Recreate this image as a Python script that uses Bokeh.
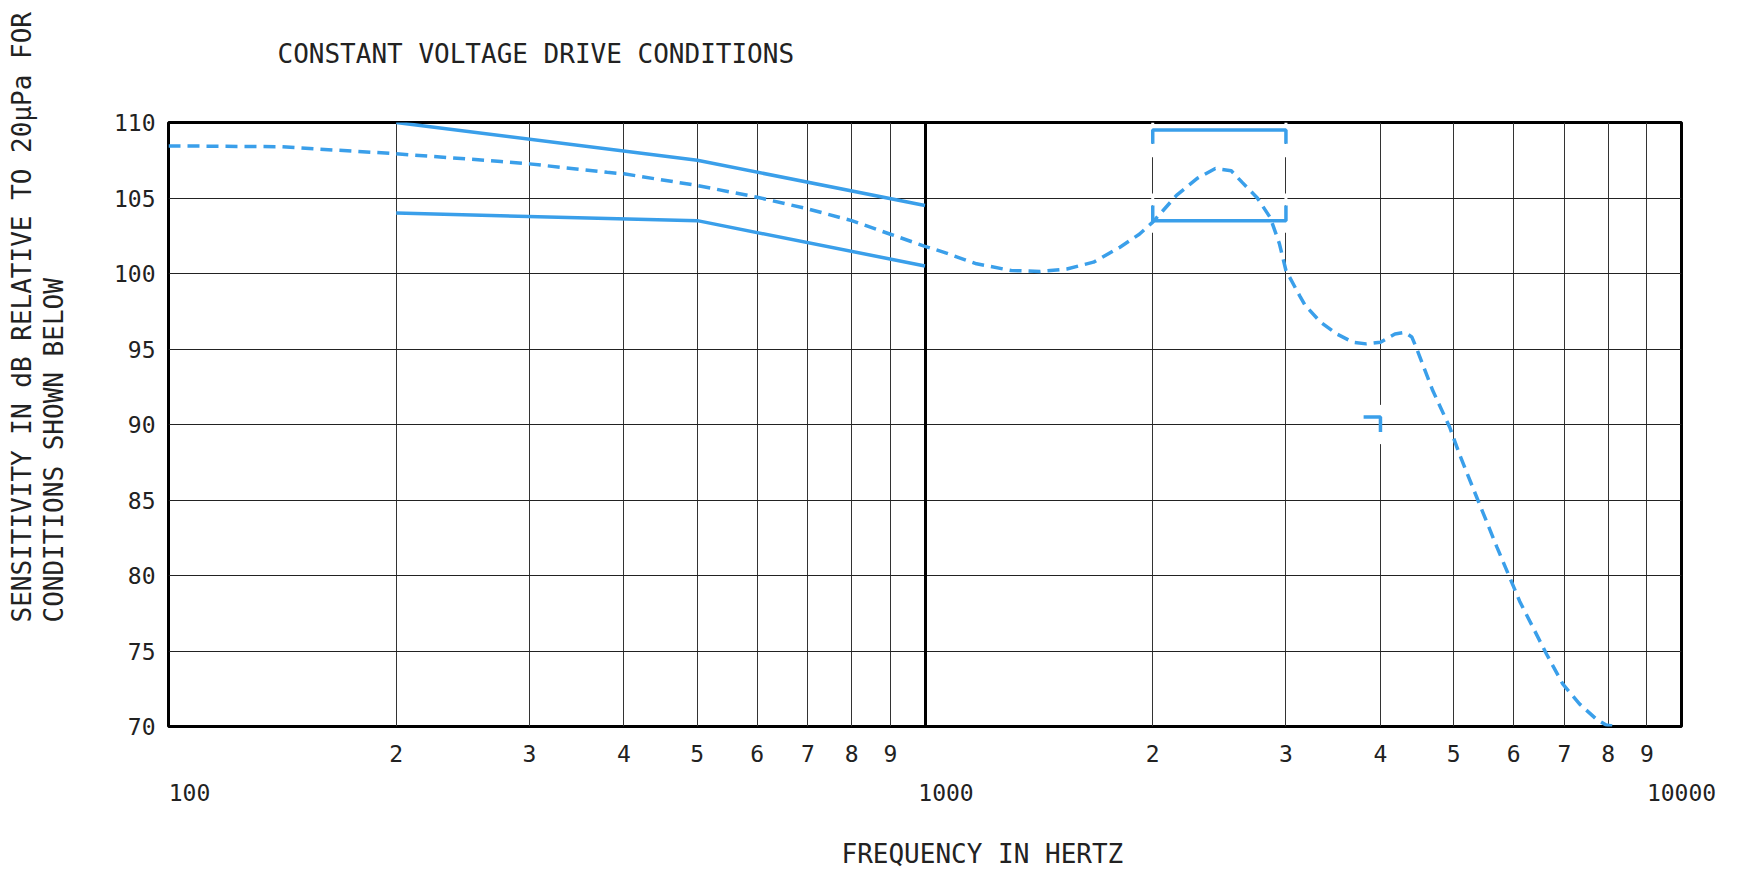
from bokeh.plotting import figure
from bokeh.models import (FixedTicker, CustomJSTickFormatter, LogAxis,
                          LinearAxis, Title, Grid, Range1d, LogScale)
from bokeh.embed import file_html
from bokeh.resources import INLINE

FONT = "DejaVu Sans Mono"
BLUE = "#3a9fea"
INK = "#222222"

# ---------------- texts ----------------
title_text = "CONSTANT VOLTAGE DRIVE CONDITIONS"
y_title_1 = "SENSITIVITY IN dB RELATIVE TO 20\u03bcPa FOR"
y_title_2 = "CONDITIONS SHOWN BELOW"
x_title = "FREQUENCY IN HERTZ"

# ---------------- ticks ----------------
y_ticks = [70, 75, 80, 85, 90, 95, 100, 105, 110]
minor_ticks = [200, 300, 400, 500, 600, 700, 800, 900,
               2000, 3000, 4000, 5000, 6000, 7000, 8000, 9000]
minor_labels = ["2", "3", "4", "5", "6", "7", "8", "9",
                "2", "3", "4", "5", "6", "7", "8", "9"]
decade_ticks = [100, 1000, 10000]
decade_labels = ["100", "1000", "10000"]

# ---------------- data ----------------
resp_freq = [100, 140, 200, 275, 300, 380, 400, 500, 600, 700, 800, 900,
             1000, 1060, 1170, 1300, 1420, 1540, 1670, 1810, 1920, 2000,
             2150, 2290, 2420, 2540, 2630, 2750, 2860, 2940, 3000, 3130,
             3180, 3330, 3500, 3680, 3830, 4000, 4180, 4310, 4400, 4460,
             4690, 4940, 5090, 5360, 5700, 6110, 6630, 6970, 7330, 7710,
             7950, 8180]
resp_db = [108.45, 108.4, 107.93, 107.42, 107.26, 106.7, 106.6, 105.83,
           105.05, 104.28, 103.5, 102.6, 101.8, 101.4, 100.64, 100.2,
           100.13, 100.3, 100.75, 101.74, 102.6, 103.4, 105.17, 106.3,
           106.95, 106.8, 106.0, 105.0, 103.7, 102.0, 100.2, 98.5,
           97.9, 96.8, 96.0, 95.45, 95.34, 95.45, 96.0, 96.1, 95.8, 95.1,
           92.25, 89.8, 88.0, 85.2, 81.9, 78.3, 74.8, 72.8, 71.5, 70.5,
           70.1, 70.0]

upper_freq = [200, 500, 1000]
upper_db = [110.0, 107.5, 104.5]
lower_freq = [200, 500, 1000]
lower_db = [104.0, 103.5, 100.5]

# tolerance bracket 2 kHz - 3 kHz
bracket_top_x = [2000, 2000, 3000, 3000]
bracket_top_y = [108.6, 109.5, 109.5, 108.6]
bracket_bot_x = [2000, 2000, 3000, 3000]
bracket_bot_y = [104.5, 103.5, 103.5, 104.5]
# marker near 4 kHz
mark_x = [3800, 4000, 4000]
mark_y = [90.5, 90.5, 89.5]
# gaps left open in the vertical grid lines around the markers
gap_x = [2000, 2000, 2000, 2000, 3000, 3000, 3000, 3000, 4000]
gap_y0 = [109.5, 107.7, 104.5, 102.7, 109.5, 107.7, 104.5, 102.7, 88.7]
gap_y1 = [110.0, 108.6, 105.3, 103.5, 110.0, 108.6, 105.3, 103.5, 91.3]

# ---------------- layout ----------------
W, H = 1737, 869
BORDER_L, BORDER_R, BORDER_T, BORDER_B = 168, 56, 122, 143
FRAME_W = W - BORDER_L - BORDER_R
DECADE_LABEL_SHIFT_PX = 21   # decade labels sit right of their grid line
X_MIN, X_MAX = 100, 10000


def lookup_formatter(vals, labs):
    return CustomJSTickFormatter(
        args=dict(tick_vals=vals, tick_labs=labs),
        code="""
        for (let i = 0; i < tick_vals.length; i++) {
            if (Math.abs(tick_vals[i] - tick) < 1e-6 * tick) return tick_labs[i];
        }
        return '';
        """)


def style_axis(ax, size, standoff):
    ax.axis_line_color = None
    ax.major_tick_line_color = None
    ax.minor_tick_line_color = None
    ax.major_tick_out = 0
    ax.major_tick_in = 0
    ax.minor_tick_out = 0
    ax.minor_tick_in = 0
    ax.major_label_text_font = FONT
    ax.major_label_text_font_size = size
    ax.major_label_text_color = INK
    ax.major_label_standoff = standoff


def spacer(axis_cls, size, at, **kw):
    """An empty axis used only to reserve `size` pixels in a side panel."""
    ax = axis_cls(ticker=FixedTicker(ticks=[at]),
                  formatter=CustomJSTickFormatter(code="return '';"), **kw)
    ax.axis_line_color = None
    ax.major_tick_line_color = "white"
    ax.major_tick_line_alpha = 0.01
    ax.minor_tick_line_color = None
    ax.major_tick_out = size
    ax.major_tick_in = 0
    ax.minor_tick_out = 0
    ax.minor_tick_in = 0
    ax.major_label_standoff = 0
    ax.major_label_text_font_size = "1px"
    ax.major_label_text_color = None
    return ax


def text_title(text, align="left", offset=0, standoff=0, size="26px"):
    return Title(text=text, align=align, offset=offset, standoff=standoff,
                 text_font=FONT, text_font_size=size,
                 text_font_style="normal", text_color=INK)


p = figure(width=W, height=H, x_axis_type="log", x_range=(X_MIN, X_MAX),
           y_range=(70, 110), output_backend="svg", toolbar_location=None,
           title=None, min_border_left=BORDER_L, min_border_right=BORDER_R,
           min_border_top=BORDER_T, min_border_bottom=BORDER_B)
p.background_fill_color = "white"
p.border_fill_color = "white"
p.outline_line_color = "black"
p.outline_line_width = 3

xa = p.below[0]
ya = p.left[0]

# chart title (above)
p.add_layout(spacer(LogAxis, 54, 1500), "above")
p.add_layout(text_title(title_text, offset=109), "above")

# x axis (minor digits)
xa.ticker = FixedTicker(ticks=minor_ticks)
xa.formatter = lookup_formatter(minor_ticks, minor_labels)
style_axis(xa, "23px", 18)

# x axis (decade labels, drawn a little right of their grid lines;
# a label that would fall past the frame edge is held at the edge)
shift = 10 ** (2 * DECADE_LABEL_SHIFT_PX / FRAME_W)
dec_lo, dec_hi = X_MIN / shift, X_MAX / shift
p.extra_x_ranges = {"decade": Range1d(dec_lo, dec_hi)}
p.extra_x_scales = {"decade": LogScale()}
dec_pos = [min(t, dec_hi) for t in decade_ticks]
xd = LogAxis(x_range_name="decade", ticker=FixedTicker(ticks=dec_pos),
             formatter=lookup_formatter(dec_pos, decade_labels))
style_axis(xd, "23px", 19)
p.add_layout(xd, "below")

# x axis title
p.add_layout(spacer(LogAxis, 33, 150), "below")
p.add_layout(text_title(x_title, offset=673), "below")

# y axis
ya.ticker = FixedTicker(ticks=y_ticks)
style_axis(ya, "23px", 13)

# y axis titles (inner line first)
p.add_layout(spacer(LinearAxis, 42, 90), "left")
p.add_layout(text_title(y_title_2, offset=104), "left")
p.add_layout(text_title(y_title_1, offset=104), "left")

# grids
p.xgrid.ticker = FixedTicker(ticks=minor_ticks)
p.xgrid.grid_line_color = "#333333"
p.xgrid.grid_line_width = 1
p.ygrid.ticker = FixedTicker(ticks=y_ticks)
p.ygrid.grid_line_color = "#222222"
p.ygrid.grid_line_width = 1
p.add_layout(Grid(dimension=0, ticker=FixedTicker(ticks=decade_ticks),
                  grid_line_color="black", grid_line_width=3))

# grid gaps
p.segment(x0=gap_x, y0=gap_y0, x1=gap_x, y1=gap_y1,
          line_color="white", line_width=3)

# curves
p.line(upper_freq, upper_db, line_color=BLUE, line_width=3.5)
p.line(lower_freq, lower_db, line_color=BLUE, line_width=3.5)
p.line(resp_freq, resp_db, line_color=BLUE, line_width=3.5, line_dash="12 7")
p.line(bracket_top_x, bracket_top_y, line_color=BLUE, line_width=3.5)
p.line(bracket_bot_x, bracket_bot_y, line_color=BLUE, line_width=3.5)
p.line(mark_x, mark_y, line_color=BLUE, line_width=3.5)

open("out.html", "w").write(file_html(p, INLINE))
